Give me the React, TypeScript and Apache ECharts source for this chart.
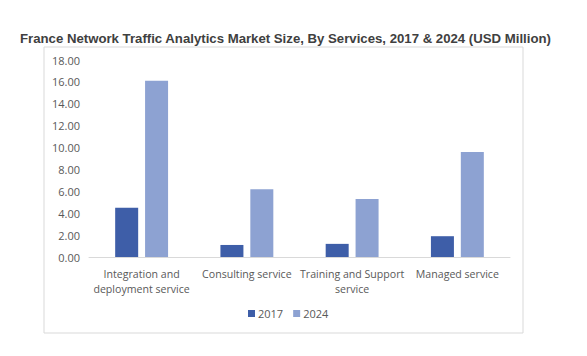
import React, { useEffect, useRef } from "react";
import * as echarts from "echarts";

const categories = [
  "Integration and\ndeployment service",
  "Consulting service",
  "Training and Support\nservice",
  "Managed service",
];
const values2017 = [4.5, 1.1, 1.2, 1.9];
const values2024 = [16.1, 6.2, 5.3, 9.6];
const seriesNames = ["2017", "2024"];
const titleText =
  "France Network Traffic Analytics Market Size, By Services, 2017 & 2024 (USD Million)";

export default function App() {
  const ref = useRef<HTMLDivElement>(null);
  useEffect(() => {
    document.body.style.margin = "0";
    const chart = echarts.init(ref.current!, null, { renderer: "svg" });
    const labelFont = "'Open Sans', 'Noto Sans', sans-serif";
    chart.setOption({
      animation: false,
      backgroundColor: "#ffffff",
      title: {
        text: titleText,
        left: 15,
        top: 27,
        textStyle: {
          fontFamily: "'Liberation Sans', Arial, sans-serif",
          fontWeight: "bold",
          fontSize: 13.2,
          color: "#404040",
        },
      },
      graphic: [
        {
          type: "rect",
          shape: { x: 44, y: 47, width: 479, height: 286 },
          style: { fill: "none", stroke: "#d9d9d9", lineWidth: 1 },
          silent: true,
        },
      ],
      legend: {
        data: seriesNames,
        top: 303,
        left: 243,
        itemWidth: 7,
        itemHeight: 7,
        itemGap: 10,
        icon: "rect",
        textStyle: { fontFamily: labelFont, fontSize: 11, color: "#595959", padding: [0, 0, 0, -2] },
      },
      grid: { left: 89, right: 77, top: 60, bottom: 99 },
      xAxis: {
        type: "category",
        data: categories,
        axisLine: { lineStyle: { color: "#d9d9d9" } },
        axisTick: { show: false },
        axisLabel: {
          fontFamily: labelFont,
          fontSize: 10.6,
          color: "#595959",
          lineHeight: 15,
          margin: 9,
          interval: 0,
        },
      },
      yAxis: {
        type: "value",
        min: 0,
        max: 18,
        interval: 2,
        axisLine: { show: false },
        axisTick: { show: false },
        splitLine: { show: false },
        axisLabel: {
          fontFamily: labelFont,
          fontSize: 11,
          color: "#595959",
          margin: 9,
          formatter: (v: number) => v.toFixed(2),
        },
      },
      series: [
        {
          name: seriesNames[0],
          type: "bar",
          data: values2017,
          barWidth: 23,
          barGap: "30%",
          itemStyle: { color: "#3E5EA8" },
        },
        {
          name: seriesNames[1],
          type: "bar",
          data: values2024,
          barWidth: 23,
          itemStyle: { color: "#8DA2D2" },
        },
      ],
    });
    return () => chart.dispose();
  }, []);
  return <div ref={ref} style={{ width: 587, height: 356 }} />;
}
